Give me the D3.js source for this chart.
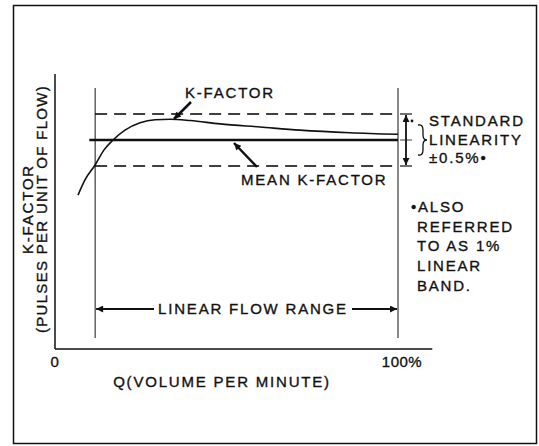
<!DOCTYPE html>
<html>
<head>
<meta charset="utf-8">
<script src="https://cdn.jsdelivr.net/npm/d3@7"></script>
<style>
  body { margin: 0; background: #fff; }
  text { font-family: "Liberation Sans", Arial, sans-serif; font-size: 15px; fill: #111; stroke: #111; stroke-width: 0.35px; letter-spacing: 1.8px; }
</style>
</head>
<body>
<div id="chart"></div>
<script>
// K-factor curve: flow Q (% of max) vs deviation from mean K-factor (%)
var flowQ    = [6.7, 8.7, 11.7, 14.3, 16.9, 20.4, 24.8, 29.2, 33.5, 39.4, 48.1, 59.8, 71.4, 86, 100];
var kDev     = [-1.06, -0.77, -0.48, -0.19, 0, 0.19, 0.33, 0.39, 0.40, 0.375, 0.31, 0.25, 0.19, 0.14, 0.11];
var linearRange = [11.7, 100];   // linear flow range, % Q
var bandLimits  = [-0.5, 0.5];   // standard linearity, %
var xTicks = [[0, "0"], [100, "100%"]];

var width = 539, height = 446;

var svg = d3.select("#chart").append("svg")
    .attr("width", width)
    .attr("height", height);

var x = d3.scaleLinear().domain([0, 100]).range([55, 398]);
var y = d3.scaleLinear().domain([-0.5, 0.5]).range([166, 114]);

// outer frame
svg.append("rect")
    .attr("x", 13.5).attr("y", 5.5)
    .attr("width", 523).attr("height", 438)
    .attr("fill", "none").attr("stroke", "#111").attr("stroke-width", 1.5);

// arrowhead marker
var defs = svg.append("defs");
defs.append("marker")
    .attr("id", "head")
    .attr("viewBox", "0 0 10 10")
    .attr("refX", 10).attr("refY", 5)
    .attr("markerWidth", 10).attr("markerHeight", 7)
    .attr("markerUnits", "userSpaceOnUse")
    .attr("orient", "auto")
  .append("path")
    .attr("d", "M0,0 L10,5 L0,10 Z")
    .attr("fill", "#111");

// axes
svg.append("line")
    .attr("x1", x(0)).attr("x2", x(0))
    .attr("y1", 74).attr("y2", 349)
    .attr("stroke", "#111").attr("stroke-width", 1.5);
svg.append("line")
    .attr("x1", x(0)).attr("x2", x(110))
    .attr("y1", 349).attr("y2", 349)
    .attr("stroke", "#111").attr("stroke-width", 1.5);

svg.selectAll("text.tick")
    .data(xTicks)
  .enter().append("text")
    .attr("class", "tick")
    .attr("x", function(d) { return d[0] === 0 ? x(d[0]) : x(d[0]) + 4; })
    .attr("y", 367)
    .attr("text-anchor", "middle")
    .style("letter-spacing", "0.5px")
    .text(function(d) { return d[1]; });

svg.append("text")
    .attr("x", 222).attr("y", 387)
    .attr("text-anchor", "middle")
    .text("Q(VOLUME PER MINUTE)");

// y label
var yl = svg.append("g").attr("transform", "translate(0,209) rotate(-90)");
yl.append("text").attr("x", 0).attr("y", 33).attr("text-anchor", "middle").text("K-FACTOR");
yl.append("text").attr("x", 0).attr("y", 47).attr("text-anchor", "middle")
    .style("letter-spacing", "1.3px")
    .text("(PULSES PER UNIT OF FLOW)");

// linear range verticals
svg.selectAll("line.range")
    .data(linearRange)
  .enter().append("line")
    .attr("class", "range")
    .attr("x1", function(d) { return x(d); })
    .attr("x2", function(d) { return x(d); })
    .attr("y1", 88).attr("y2", 338)
    .attr("stroke", "#111").attr("stroke-width", 1);

// band dashed lines
svg.selectAll("line.band")
    .data(bandLimits)
  .enter().append("line")
    .attr("class", "band")
    .attr("x1", x(linearRange[0])).attr("x2", x(linearRange[1]))
    .attr("y1", function(d) { return y(d); })
    .attr("y2", function(d) { return y(d); })
    .attr("stroke", "#000").attr("stroke-width", 1.4)
    .attr("stroke-dasharray", "12,7");

// mean k-factor line
svg.append("line")
    .attr("x1", x(10)).attr("x2", x(100))
    .attr("y1", y(0)).attr("y2", y(0))
    .attr("stroke", "#111").attr("stroke-width", 2.6);

// k-factor curve
var pts = flowQ.map(function(q, i) { return [q, kDev[i]]; });
var line = d3.line()
    .x(function(d) { return x(d[0]); })
    .y(function(d) { return y(d[1]); })
    .curve(d3.curveMonotoneX);
svg.append("path")
    .datum(pts)
    .attr("d", line)
    .attr("fill", "none").attr("stroke", "#111").attr("stroke-width", 1.6);

// labels with pointer arrows
svg.append("text").attr("x", 185).attr("y", 98).text("K-FACTOR");
svg.append("line")
    .attr("x1", 191).attr("y1", 102).attr("x2", 174).attr("y2", 119)
    .attr("stroke", "#111").attr("stroke-width", 2.5)
    .attr("marker-end", "url(#head)");

svg.append("text").attr("x", 241).attr("y", 185).text("MEAN K-FACTOR");
svg.append("line")
    .attr("x1", 257).attr("y1", 167).attr("x2", 234).attr("y2", 143)
    .attr("stroke", "#111").attr("stroke-width", 2.5)
    .attr("marker-end", "url(#head)");

// standard linearity double arrow
var ax = 406;
svg.append("line")
    .attr("x1", ax).attr("x2", ax).attr("y1", y(0)).attr("y2", y(0.5) + 1)
    .attr("stroke", "#111").attr("stroke-width", 1.8).attr("marker-end", "url(#head)");
svg.append("line")
    .attr("x1", ax).attr("x2", ax).attr("y1", y(0)).attr("y2", y(-0.5) - 1)
    .attr("stroke", "#111").attr("stroke-width", 1.8).attr("marker-end", "url(#head)");
svg.selectAll("line.cap")
    .data(bandLimits)
  .enter().append("line")
    .attr("class", "cap")
    .attr("x1", ax - 6).attr("x2", ax + 6)
    .attr("y1", function(d) { return y(d); })
    .attr("y2", function(d) { return y(d); })
    .attr("stroke", "#111").attr("stroke-width", 1.2);
svg.append("line")
    .attr("x1", ax - 6).attr("x2", ax + 6).attr("y1", y(0)).attr("y2", y(0))
    .attr("stroke", "#111").attr("stroke-width", 0.8);
svg.append("circle").attr("cx", 412).attr("cy", 121).attr("r", 1.4).attr("fill", "#111");

// brace
svg.append("path")
    .attr("d", "M418,125 Q423,124 423,130 L423,135 Q423,140 427,140 Q423,140 423,145 L423,150 Q423,156 418,155")
    .attr("fill", "none").attr("stroke", "#111").attr("stroke-width", 1.3);

var noteLines = [["STANDARD", 126], ["LINEARITY", 145], ["\u00b10.5%\u2022", 163]];
svg.selectAll("text.std")
    .data(noteLines)
  .enter().append("text")
    .attr("class", "std")
    .attr("x", 429)
    .attr("y", function(d) { return d[1]; })
    .text(function(d) { return d[0]; });

var footLines = ["\u2022ALSO", "REFERRED", "TO AS 1%", "LINEAR", "BAND."];
svg.selectAll("text.foot")
    .data(footLines)
  .enter().append("text")
    .attr("class", "foot")
    .attr("x", function(d, i) { return i === 0 ? 411 : 417; })
    .attr("y", function(d, i) { return 212 + i * 19.7; })
    .text(function(d) { return d; });

// linear flow range arrow
svg.append("text")
    .attr("x", 253).attr("y", 314)
    .attr("text-anchor", "middle")
    .text("LINEAR FLOW RANGE");
svg.append("line")
    .attr("x1", 154).attr("x2", x(linearRange[0]) + 1).attr("y1", 309).attr("y2", 309)
    .attr("stroke", "#111").attr("stroke-width", 1.8).attr("marker-end", "url(#head)");
svg.append("line")
    .attr("x1", 352).attr("x2", x(linearRange[1]) - 1).attr("y1", 309).attr("y2", 309)
    .attr("stroke", "#111").attr("stroke-width", 1.8).attr("marker-end", "url(#head)");
</script>
</body>
</html>
